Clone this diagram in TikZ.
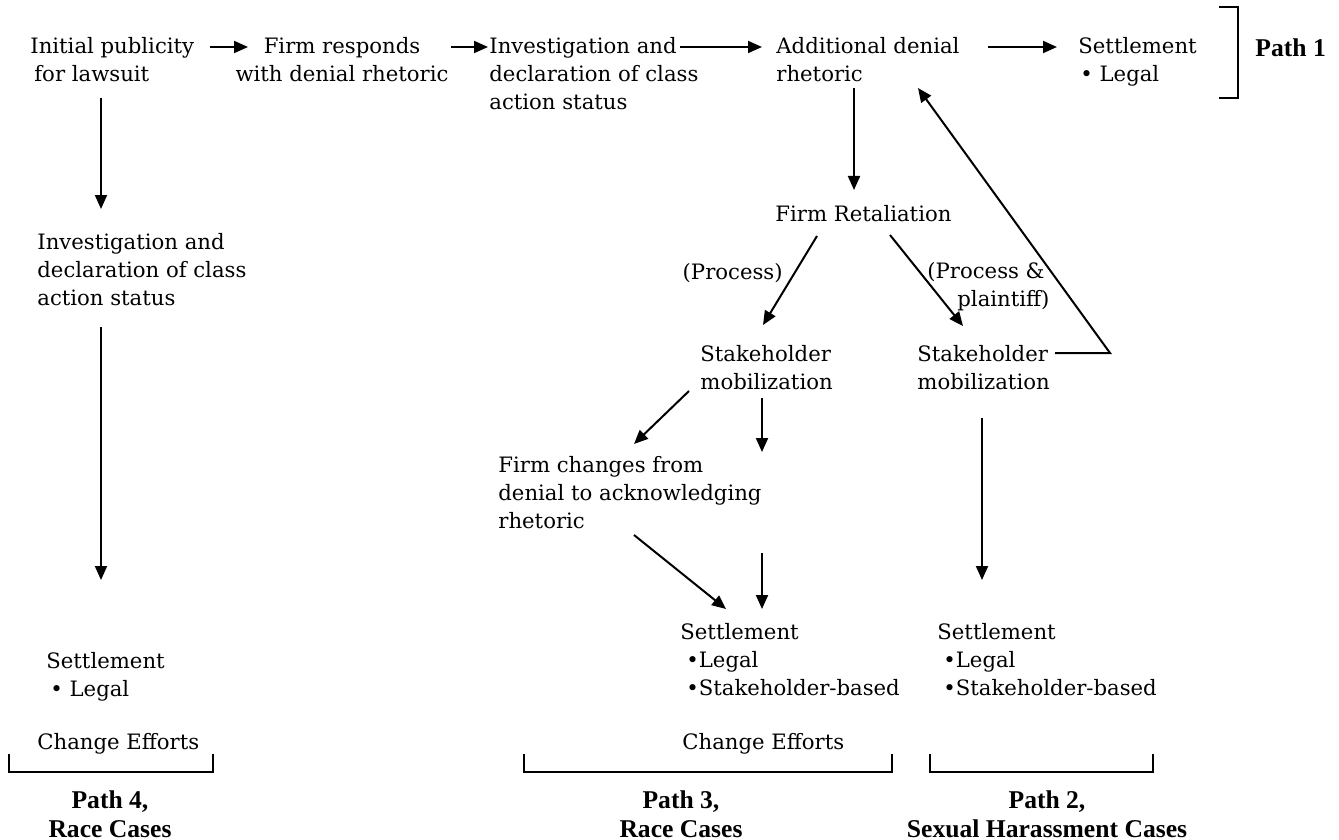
\documentclass[tikz,border=0pt]{standalone}
\usepackage{fontspec}
\setmainfont{DejaVu Serif}
\newfontfamily\pathfont{Liberation Serif}
\usetikzlibrary{arrows.meta,calc}
\tikzset{
  txt/.style={font=\fontsize{10.6}{14}\selectfont, inner sep=0pt, align=left, anchor=north west},
  pathlbl/.style={font=\pathfont\bfseries\fontsize{12.8}{14.5}\selectfont, inner sep=0pt, align=center},
  arr/.style={line width=1pt, -{Triangle[length=7pt,width=6pt]}},
  brk/.style={line width=0.9pt}
}
\begin{document}
\begin{tikzpicture}[x=0.5pt,y=-0.5pt]
\useasboundingbox (0,0) rectangle (1339,840);
% top row
\node[txt] (init) at (30,37) {Initial publicity\\\hspace*{2pt}for lawsuit};
\node[txt, align=center, anchor=north] (resp) at (342,37) {Firm responds\\with denial rhetoric};
\node[txt] (inv1) at (489,37) {Investigation and\\declaration of class\\action status};
\node[txt] (add) at (776,37) {Additional denial\\rhetoric};
\node[txt] (set1) at (1078,37) {Settlement\\\hspace*{1pt}• Legal};
\node[pathlbl, anchor=west] (p1) at (1255,48) {Path 1};
% left column
\node[txt] (inv2) at (37,233) {Investigation and\\declaration of class\\action status};
\node[txt] (set4) at (46,652) {Settlement\\\hspace*{2pt}• Legal};
\node[txt, anchor=west] (ce4) at (37,744) {Change Efforts};
\node[pathlbl, anchor=north] (p4) at (110,790) {Path 4,\\Race Cases};
% middle
\node[txt] (ret) at (775,205) {Firm Retaliation};
\node[txt, anchor=east] (proc) at (783,273) {(Process)};
\node[txt] (procpl) at (927,262) {(Process \&\\\hspace*{15pt}plaintiff)};
\node[txt] (sm1) at (700,345) {Stakeholder\\mobilization};
\node[txt] (sm2) at (917,345) {Stakeholder\\mobilization};
\node[txt] (fc) at (498,456) {Firm changes from\\denial to acknowledging\\rhetoric};
\node[txt] (set3) at (680,623) {Settlement\\\hspace*{3pt}•Legal\\\hspace*{3pt}•Stakeholder-based};
\node[txt] (set2) at (937,623) {Settlement\\\hspace*{3pt}•Legal\\\hspace*{3pt}•Stakeholder-based};
\node[txt, anchor=west] (ce3) at (682,744) {Change Efforts};
\node[pathlbl, anchor=north] (p3) at (681,790) {Path 3,\\Race Cases};
\node[pathlbl, anchor=north] (p2) at (1047,790) {Path 2,\\Sexual Harassment Cases};
% connectors
\draw[arr] ($(init.north west)+(180,10)$) -- ($(resp.north)+(-94,10)$);
\draw[arr] ($(resp.north)+(109,10)$) -- ($(inv1.north west)+(-1,10)$);
\draw[arr] ($(inv1.north west)+(191,10)$) -- ($(add.north west)+(-14,10)$);
\draw[arr] ($(add.north west)+(212,10)$) -- ($(set1.north west)+(-21,10)$);
\draw[arr] ($(init.north west)+(71,61)$) -- ($(inv2.north west)+(64,-24)$);
\draw[arr] ($(inv2.north west)+(64,94)$) -- ($(set4.north west)+(55,-72)$);
\draw[arr] ($(add.north west)+(78,51)$) -- ($(ret.north west)+(79,-15)$);
\draw[arr] ($(ret.north west)+(42,31)$) -- ($(sm1.north west)+(63,-20)$);
\draw[arr] ($(ret.north west)+(115,30)$) -- ($(sm2.north west)+(46,-19)$);
\draw[arr] ($(sm2.north west)+(138,8)$) -- ++(55,0) -- ($(add.north west)+(142,51)$);
\draw[arr] ($(sm1.north west)+(-11,46)$) -- ($(fc.north west)+(136,-12)$);
\coordinate (gapTop) at ($(sm1.north west)+(62,107)$);
\coordinate (gapBot) at ($(set3.north west)+(82,-70)$);
\draw[arr] ($(sm1.north west)+(62,53)$) -- (gapTop);
\draw[arr] (gapBot) -- ($(set3.north west)+(82,-14)$);
\draw[arr] ($(fc.north west)+(136,79)$) -- ($(set3.north west)+(46,-14)$);
\draw[arr] ($(sm2.north west)+(65,73)$) -- ($(set2.north west)+(45,-43)$);
% brackets
\draw[brk] (1219,7) -- (1238,7) -- (1238,98) -- (1219,98);
\draw[brk] (9,754) -- (9,772) -- (213,772) -- (213,754);
\draw[brk] (524,754) -- (524,772) -- (892,772) -- (892,754);
\draw[brk] (930,754) -- (930,772) -- (1153,772) -- (1153,754);
\end{tikzpicture}
\end{document}
